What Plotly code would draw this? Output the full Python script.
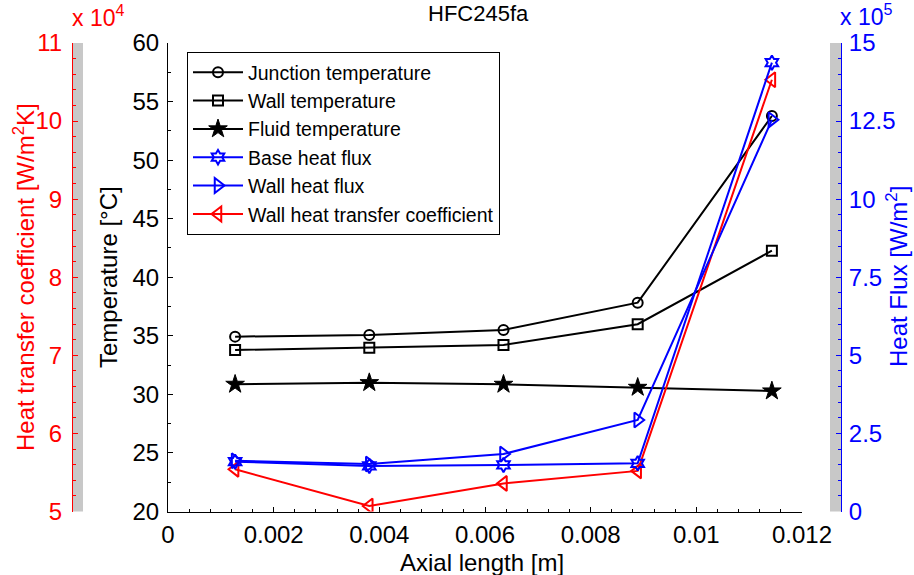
import plotly.graph_objects as go

# ---------------- data ----------------
axial_length = [0.00127, 0.00381, 0.00635, 0.00889, 0.01143]  # m

junction_temp = [34.93, 35.07, 35.50, 37.83, 53.77]  # °C
wall_temp = [33.79, 33.99, 34.22, 35.99, 42.27]      # °C
fluid_temp = [30.86, 31.00, 30.86, 30.60, 30.29]     # °C

base_heat_flux = [1.595e5, 1.457e5, 1.489e5, 1.543e5, 14.37e5]  # W/m2
wall_heat_flux = [1.627e5, 1.521e5, 1.841e5, 2.93e5, 12.54e5]   # W/m2

wall_htc = [5.54e4, 5.07e4, 5.36e4, 5.52e4, 10.53e4]  # W/m2K

x_tickvals = [0, 0.002, 0.004, 0.006, 0.008, 0.010, 0.012]
x_ticktext = ["0", "0.002", "0.004", "0.006", "0.008", "0.01", "0.012"]
temp_tickvals = [20, 25, 30, 35, 40, 45, 50, 55, 60]
htc_tickvals = [5e4, 6e4, 7e4, 8e4, 9e4, 10e4, 11e4]
htc_ticktext = ["5", "6", "7", "8", "9", "10", "11"]
hf_tickvals = [0, 2.5e5, 5e5, 7.5e5, 10e5, 12.5e5, 15e5]
hf_ticktext = ["0", "2.5", "5", "7.5", "10", "12.5", "15"]

# ---------------- layout geometry ----------------
W, H = 914, 575
px = lambda x: x / W
py = lambda y: 1 - y / H
X0, X1 = 168, 802
YT, YB = 43, 511.5
RED_X = 72
BLUE_X = 841

FONT = "Liberation Sans, Arial, sans-serif"
RED = "#ff0000"
BLUE = "#0000ff"
TICK_SIZE = 24
TITLE_SIZE = 24

fig = go.Figure()

fig.add_trace(go.Scatter(x=axial_length, y=junction_temp, name="Junction temperature",
                         mode="lines+markers", line=dict(color="black", width=2),
                         marker=dict(symbol="circle-open", size=10, color="black", line=dict(width=2))))
fig.add_trace(go.Scatter(x=axial_length, y=wall_temp, name="Wall temperature",
                         mode="lines+markers", line=dict(color="black", width=2),
                         marker=dict(symbol="square-open", size=10, color="black", line=dict(width=2))))
fig.add_trace(go.Scatter(x=axial_length, y=fluid_temp, name="Fluid temperature",
                         mode="lines+markers", line=dict(color="black", width=2),
                         marker=dict(symbol="star", size=14, color="black", line=dict(width=1, color="black"))))
fig.add_trace(go.Scatter(x=axial_length, y=base_heat_flux, name="Base heat flux", yaxis="y3",
                         mode="lines+markers", line=dict(color=BLUE, width=2),
                         marker=dict(symbol="hexagram-open", size=11, color=BLUE, line=dict(width=2))))
fig.add_trace(go.Scatter(x=axial_length, y=wall_heat_flux, name="Wall heat flux", yaxis="y3",
                         mode="lines+markers", line=dict(color=BLUE, width=2),
                         marker=dict(symbol="triangle-right-open", size=13, color=BLUE, line=dict(width=2))))
fig.add_trace(go.Scatter(x=axial_length, y=wall_htc, name="Wall heat transfer coefficient", yaxis="y2",
                         mode="lines+markers", line=dict(color=RED, width=2),
                         marker=dict(symbol="triangle-left-open", size=13, color=RED, line=dict(width=2))))

tickfont = dict(family=FONT, size=TICK_SIZE, color="black")

fig.update_layout(
    template="none",
    width=W, height=H, autosize=False,
    margin=dict(l=0, r=0, t=0, b=0),
    paper_bgcolor="white", plot_bgcolor="rgba(0,0,0,0)",
    font=dict(family=FONT, color="black"),
    showlegend=True,
    xaxis=dict(domain=[px(X0), px(X1)], range=[0, 0.012], anchor="y",
               tickmode="array", tickvals=x_tickvals, ticktext=x_ticktext,
               ticks="inside", ticklen=5, tickwidth=1, tickcolor="black",
               minor=dict(dtick=0.0004, tick0=0, ticks="inside", ticklen=3, tickcolor="black"),
               showline=True, linecolor="black", linewidth=1, mirror=False,
               showgrid=False, zeroline=False, tickfont=tickfont, automargin=False,
               ticklabelstandoff=2),
    yaxis=dict(domain=[py(YB), py(YT)], range=[20, 60], anchor="x",
               tickmode="array", tickvals=temp_tickvals,
               ticks="inside", ticklen=5, tickwidth=1, tickcolor="black",
               minor=dict(dtick=2.5, tick0=20, ticks="inside", ticklen=3, tickcolor="black"),
               showline=True, linecolor="black", linewidth=1, mirror=False,
               showgrid=False, zeroline=False, tickfont=tickfont, automargin=False,
               ticklabelstandoff=3),
    yaxis2=dict(overlaying="y", anchor="free", position=px(RED_X), side="left",
                range=[5e4, 11e4], tickmode="array", tickvals=htc_tickvals, ticktext=htc_ticktext,
                ticks="inside", ticklen=5, tickwidth=1, tickcolor=RED,
                minor=dict(dtick=2000, tick0=5e4, ticks="inside", ticklen=3, tickcolor=RED),
                showline=True, linecolor=RED, linewidth=1,
                showgrid=False, zeroline=False,
                tickfont=dict(family=FONT, size=TICK_SIZE, color=RED), automargin=False,
                ticklabelstandoff=5),
    yaxis3=dict(overlaying="y", anchor="free", position=px(BLUE_X), side="right",
                range=[0, 15e5], tickmode="array", tickvals=hf_tickvals, ticktext=hf_ticktext,
                ticks="inside", ticklen=5, tickwidth=1, tickcolor=BLUE,
                minor=dict(dtick=0.5e5, tick0=0, ticks="inside", ticklen=3, tickcolor=BLUE),
                showline=True, linecolor=BLUE, linewidth=1,
                showgrid=False, zeroline=False,
                tickfont=dict(family=FONT, size=TICK_SIZE, color=BLUE), automargin=False,
                ticklabelstandoff=2),
    legend=dict(x=px(187), y=py(52), xanchor="left", yanchor="top",
                bgcolor="white", bordercolor="black", borderwidth=1,
                font=dict(family=FONT, size=19.5, color="black"),
                itemwidth=50, tracegroupgap=0),
    shapes=[
        dict(type="rect", xref="paper", yref="paper", x0=px(RED_X), x1=px(RED_X + 11),
             y0=py(YB), y1=py(YT), fillcolor="#c8c8c8", line=dict(width=0), layer="below"),
        dict(type="rect", xref="paper", yref="paper", x0=px(BLUE_X - 11), x1=px(BLUE_X),
             y0=py(YB), y1=py(YT), fillcolor="#c8c8c8", line=dict(width=0), layer="below"),
    ],
    annotations=[
        dict(text="HFC245fa", xref="paper", yref="paper", x=px(478), y=py(13),
             xanchor="center", yanchor="middle", showarrow=False,
             font=dict(family=FONT, size=22, color="black")),
        dict(text="Axial length [m]", xref="paper", yref="paper", x=px(482), y=py(562),
             xanchor="center", yanchor="middle", showarrow=False,
             font=dict(family=FONT, size=TITLE_SIZE, color="black")),
        dict(text="Temperature [°C]", xref="paper", yref="paper", x=px(108), y=py(277),
             xanchor="center", yanchor="middle", showarrow=False, textangle=-90,
             font=dict(family=FONT, size=TITLE_SIZE, color="black")),
        dict(text="Heat transfer coefficient [W/m<sup>2</sup>K]", xref="paper", yref="paper",
             x=px(24), y=py(277), xanchor="center", yanchor="middle", showarrow=False, textangle=-90,
             font=dict(family=FONT, size=TITLE_SIZE, color=RED)),
        dict(text="Heat Flux [W/m<sup>2</sup>]", xref="paper", yref="paper",
             x=px(897), y=py(277), xanchor="center", yanchor="middle", showarrow=False, textangle=-90,
             font=dict(family=FONT, size=TITLE_SIZE, color=BLUE)),
        dict(text="x 10<sup>4</sup>", xref="paper", yref="paper", x=px(70), y=py(16),
             xanchor="left", yanchor="middle", showarrow=False,
             font=dict(family=FONT, size=23, color=RED)),
        dict(text="x 10<sup>5</sup>", xref="paper", yref="paper", x=px(838), y=py(15),
             xanchor="left", yanchor="middle", showarrow=False,
             font=dict(family=FONT, size=23, color=BLUE)),
    ],
)

fig.write_html("out.html")
